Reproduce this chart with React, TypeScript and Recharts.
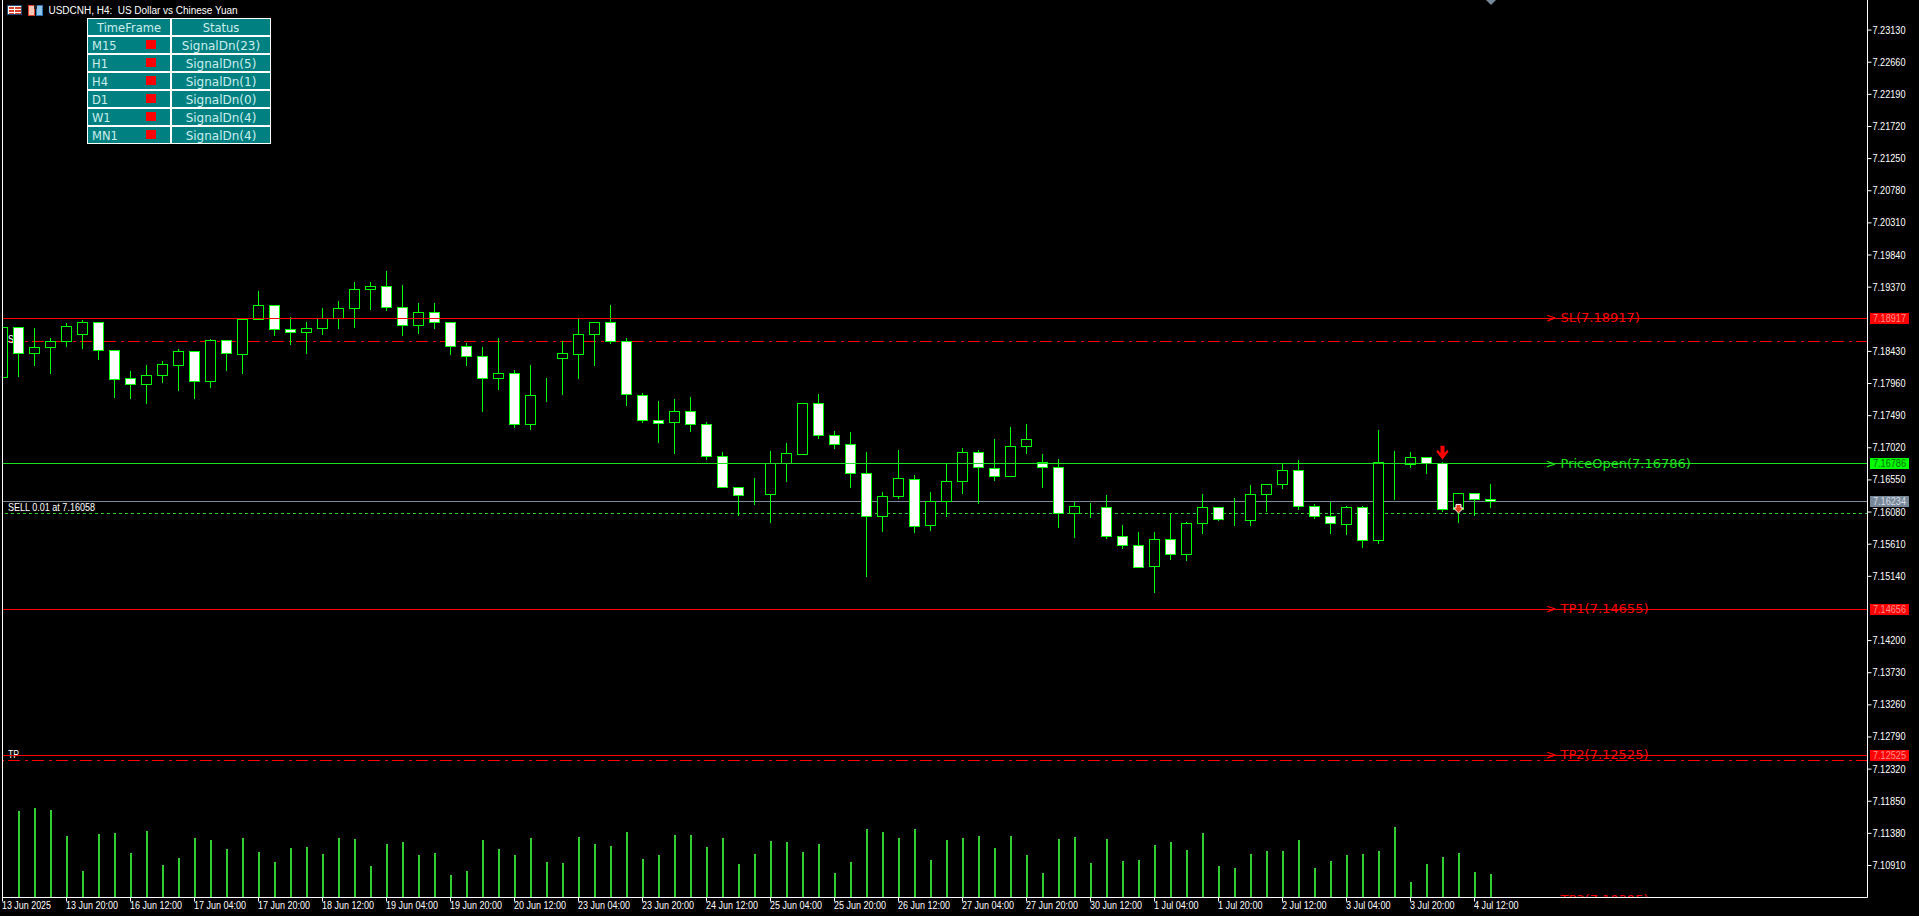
import React from 'react';
import { ComposedChart, Bar, XAxis, YAxis, ReferenceLine, ReferenceDot } from 'recharts';

const WIDTH = 1919;
const HEIGHT = 916;
const SANS = '"Liberation Sans", sans-serif';
const WIDE = '"DejaVu Sans", sans-serif';

const opens = [
  7.18049, 7.18785, 7.184, 7.18488, 7.18576, 7.18678, 7.18858, 7.18449, 7.18039, 7.17947,
  7.18078, 7.18225, 7.18434, 7.17991, 7.18595, 7.18385, 7.18897, 7.19107, 7.18756, 7.18707,
  7.18766, 7.18917, 7.19063, 7.19336, 7.19385, 7.19078, 7.1881, 7.19005, 7.18858, 7.18507,
  7.18362, 7.18035, 7.18113, 7.17362, 7.17791, 7.18328, 7.18386, 7.18684, 7.18859, 7.18581,
  7.17791, 7.17426, 7.17392, 7.17557, 7.17367, 7.16899, 7.16446, 7.16329, 7.16339, 7.16797,
  7.16924, 7.17674, 7.17206, 7.17075, 7.16651, 7.16017, 7.16309, 7.16563, 7.15885, 7.16241,
  7.16528, 7.16957, 7.16718, 7.16606, 7.1704, 7.16811, 7.16737, 7.16065, 7.16162, 7.16152,
  7.15728, 7.15597, 7.15285, 7.15684, 7.15465, 7.15918, 7.16152, 7.15972, 7.15957, 7.16338,
  7.16484, 7.16694, 7.16167, 7.16021, 7.15899, 7.16152, 7.15665, 7.16796, 7.16781, 7.16884,
  7.16796, 7.16123, 7.16357, 7.16269,
];
const highs = [
  7.18785, 7.18805, 7.18785, 7.18639, 7.18863, 7.18902, 7.18878, 7.18468, 7.18156, 7.18244,
  7.18303, 7.18478, 7.18434, 7.18624, 7.1861, 7.18902, 7.19326, 7.19107, 7.18951, 7.18878,
  7.19083, 7.1918, 7.19458, 7.19458, 7.19624, 7.19419, 7.19151, 7.19151, 7.18858, 7.18566,
  7.18513, 7.18645, 7.18177, 7.1825, 7.18055, 7.18596, 7.18932, 7.18859, 7.19127, 7.18645,
  7.1784, 7.17723, 7.17752, 7.17782, 7.17416, 7.16977, 7.16446, 7.16597, 7.16992, 7.17104,
  7.17694, 7.17826, 7.17284, 7.1727, 7.16977, 7.16392, 7.17006, 7.16641, 7.16392, 7.16797,
  7.17035, 7.17006, 7.17166, 7.17342, 7.17386, 7.16947, 7.16874, 7.16235, 7.1623, 7.16347,
  7.15909, 7.15806, 7.15806, 7.16084, 7.15953, 7.16362, 7.16172, 7.16299, 7.16494, 7.16508,
  7.16796, 7.16859, 7.16216, 7.16235, 7.16187, 7.16187, 7.17298, 7.16991, 7.16976, 7.16884,
  7.1682, 7.16377, 7.16357, 7.16508,
];
const lows = [
  7.18049, 7.18064, 7.18234, 7.18117, 7.18512, 7.18483, 7.18322, 7.17766, 7.17752, 7.17678,
  7.17986, 7.17869, 7.17752, 7.17913, 7.18161, 7.18117, 7.18897, 7.18673, 7.18541, 7.1841,
  7.18688, 7.18775, 7.1879, 7.19053, 7.19039, 7.18673, 7.18702, 7.18775, 7.18395, 7.18234,
  7.17562, 7.17884, 7.17328, 7.17299, 7.17709, 7.17811, 7.18045, 7.18235, 7.18547, 7.1765,
  7.17401, 7.17109, 7.16948, 7.1727, 7.1686, 7.16441, 7.16041, 7.16202, 7.15939, 7.16538,
  7.16924, 7.17167, 7.17021, 7.16451, 7.15149, 7.15807, 7.1629, 7.15793, 7.15822, 7.16027,
  7.16352, 7.16206, 7.16542, 7.16606, 7.16937, 7.1644, 7.15855, 7.15709, 7.16001, 7.15694,
  7.15548, 7.15275, 7.14904, 7.15387, 7.15372, 7.15767, 7.15957, 7.15894, 7.15884, 7.16089,
  7.16425, 7.16118, 7.15987, 7.15767, 7.15753, 7.15562, 7.15621, 7.16274, 7.16733, 7.16645,
  7.16099, 7.15928, 7.16031, 7.16148,
];
const closes = [
  7.18785, 7.184, 7.18493, 7.1858, 7.188, 7.18858, 7.18449, 7.1802, 7.17947, 7.18083,
  7.18244, 7.18434, 7.17991, 7.18595, 7.184, 7.18902, 7.19107, 7.18751, 7.18707, 7.18771,
  7.18917, 7.19063, 7.19341, 7.19385, 7.19073, 7.1881, 7.19005, 7.18853, 7.18502, 7.18356,
  7.18035, 7.18113, 7.17362, 7.17791, 7.17795, 7.18406, 7.18684, 7.18859, 7.18576, 7.17801,
  7.17421, 7.17377, 7.17557, 7.17362, 7.16894, 7.16441, 7.16324, 7.16333, 7.16797, 7.16943,
  7.17674, 7.17201, 7.1707, 7.16646, 7.16017, 7.16314, 7.16577, 7.15871, 7.16241, 7.16534,
  7.16957, 7.16737, 7.16606, 7.17045, 7.17147, 7.16737, 7.16065, 7.16167, 7.16166, 7.15723,
  7.15592, 7.15275, 7.15684, 7.15465, 7.15918, 7.16152, 7.15972, 7.15976, 7.16343, 7.16489,
  7.16694, 7.16162, 7.16016, 7.15914, 7.16152, 7.15665, 7.16811, 7.168, 7.16884, 7.16796,
  7.16123, 7.16357, 7.16269, 7.1624,
];
const volumes = [
  0, 261, 270, 264, 186, 81, 192, 195, 135, 201, 99, 120, 180, 174, 147, 180, 138, 108, 150, 153,
  132, 180, 177, 96, 162, 168, 129, 135, 69, 81, 174, 147, 129, 180, 108, 105, 183, 162, 156, 198,
  117, 129, 189, 189, 153, 180, 102, 132, 171, 168, 138, 162, 75, 108, 207, 198, 180, 207, 114, 174,
  180, 186, 150, 186, 129, 75, 177, 183, 105, 177, 111, 114, 159, 168, 144, 195, 96, 90, 132, 141,
  141, 174, 90, 111, 129, 132, 141, 213, 48, 102, 123, 135, 78, 72,
];

const xTickLabels = [
  '13 Jun 2025', '13 Jun 20:00', '16 Jun 12:00', '17 Jun 04:00', '17 Jun 20:00', '18 Jun 12:00',
  '19 Jun 04:00', '19 Jun 20:00', '20 Jun 12:00', '23 Jun 04:00', '23 Jun 20:00', '24 Jun 12:00',
  '25 Jun 04:00', '25 Jun 20:00', '26 Jun 12:00', '27 Jun 04:00', '27 Jun 20:00', '30 Jun 12:00',
  '1 Jul 04:00', '1 Jul 20:00', '2 Jul 12:00', '3 Jul 04:00', '3 Jul 20:00', '4 Jul 12:00',
];
const xTicks = xTickLabels.map((_, i) => i * 4);
const priceTicks = [
  7.2313, 7.2266, 7.2219, 7.2172, 7.2125, 7.2078, 7.2031, 7.1984, 7.1937, 7.1843, 7.1796, 7.1749,
  7.1702, 7.1655, 7.1608, 7.1561, 7.1514, 7.142, 7.1373, 7.1326, 7.1279, 7.1232, 7.1185, 7.1138, 7.1091,
];

const timeFrames = ['M15', 'H1', 'H4', 'D1', 'W1', 'MN1'];
const signals = ['SignalDn(23)', 'SignalDn(5)', 'SignalDn(1)', 'SignalDn(0)', 'SignalDn(4)', 'SignalDn(4)'];

const rows = opens.map((open, idx) => ({
  idx,
  open,
  high: highs[idx],
  low: lows[idx],
  close: closes[idx],
  range: [lows[idx], highs[idx]],
  volume: volumes[idx],
}));

const PRICE_DOMAIN = [7.10442, 7.2357];
const BAR_DOMAIN = [0, 116.5625];
const VOLUME_DOMAIN = [0, 2692.5];
const PLOT_LEFT = 2.5;
const PLOT_BOTTOM = 897;
const LIME = '#00ff00';
const OPEN_GREEN = '#1ee01e';
const SOFT_GREEN = '#32cd32';
const RED = '#ff0000';
const SLATE = '#778899';

const snap = (v: number) => Math.floor(v + 0.4) + 0.5;

// wick and body are worked out from the high/low range the Bar hands over
const Candle = (props: any) => {
  const { x, y, width, height, payload } = props;
  const { open, high, low, close } = payload;
  const perUnit = height / (high - low);
  const yOf = (p: number) => snap(y + (high - p) * perUnit);
  const cx = Math.floor(x + width / 2) + 0.5;
  const bodyTop = yOf(Math.max(open, close));
  const bodyBottom = yOf(Math.min(open, close));
  const left = Math.max(cx - 5, PLOT_LEFT);
  const right = cx + 5;
  return (
    <g shapeRendering="crispEdges">
      <line x1={cx} x2={cx} y1={yOf(high)} y2={yOf(low)} stroke={LIME} />
      <rect
        x={left}
        y={bodyTop}
        width={right - left}
        height={bodyBottom - bodyTop}
        fill={close > open ? '#000000' : '#ffffff'}
        stroke={LIME}
      />
    </g>
  );
};

const PriceTick = (props: any) => (
  <text
    x={props.x}
    y={props.y}
    dy={3.5}
    fill="#ffffff"
    fontSize={11}
    fontFamily={SANS}
    textAnchor="start"
    textLength={33}
    lengthAdjust="spacingAndGlyphs"
  >
    {Number(props.payload.value).toFixed(5)}
  </text>
);

const timeLabelWidth = (label: string) => (label.endsWith('2025') ? 49 : label.length === 12 ? 52 : 44.5);

const TimeTick = (props: any) => {
  const label = xTickLabels[xTicks.indexOf(props.payload.value)];
  return (
    <text
      x={props.x - 0.5}
      y={props.y}
      dy={7.5}
      fill="#ffffff"
      fontSize={11}
      fontFamily={SANS}
      textAnchor="start"
      textLength={timeLabelWidth(label)}
      lengthAdjust="spacingAndGlyphs"
    >
      {label}
    </text>
  );
};

// name in the middle of the line, value box on the price scale
const levelLabel = (name: string, boxValue: string, textColor: string, boxColor: string, boxText: string) => (props: any) => {
  const y = props.viewBox.y;
  return (
    <g>
      {name && (
        <text x={1545.5} y={y} dy={4} fill={textColor} fontSize={13} fontFamily={WIDE}>
          {name}
        </text>
      )}
      <rect x={1870} y={Math.floor(y) - 5} width={39} height={11} fill={boxColor} shapeRendering="crispEdges" />
      <text
        x={1873}
        y={y}
        dy={3.5}
        fill={boxText}
        fontSize={11}
        fontFamily={SANS}
        textLength={33}
        lengthAdjust="spacingAndGlyphs"
      >
        {boxValue}
      </text>
    </g>
  );
};

const tp3Label = (props: any) => (
  <g>
    <clipPath id="tp3-clip">
      <rect x={1500} y={880} width={200} height={PLOT_BOTTOM - 880} />
    </clipPath>
    <text x={1545.5} y={props.viewBox.y} dy={3} fill={RED} fontSize={13} fontFamily={WIDE} clipPath="url(#tp3-clip)">
      {'> TP3(7.10395)'}
    </text>
  </g>
);

const orderLabel = (text: string, dy: number, width: number, clipRight?: number) => (props: any) => (
  <g>
    {clipRight && (
      <clipPath id="order-clip">
        <rect x={0} y={props.viewBox.y - 20} width={clipRight} height={40} />
      </clipPath>
    )}
    <text
      x={8}
      y={props.viewBox.y}
      dy={dy}
      fill="#ffffff"
      fontSize={11}
      fontFamily={SANS}
      textLength={width}
      lengthAdjust="spacingAndGlyphs"
      clipPath={clipRight ? 'url(#order-clip)' : undefined}
    >
      {text}
    </text>
  </g>
);

const SellArrow = (props: any) => (
  <polygon
    transform={`translate(${props.cx},${props.cy})`}
    points="-2,-7 2,-7 2,0 5,-3 6,-1 0,7 -6,-1 -5,-3 -2,0"
    fill={RED}
  />
);

const DealArrow = (props: any) => (
  <polygon
    transform={`translate(${props.cx},${props.cy})`}
    points="-2.5,-4 2.5,-4 2.5,-0.5 5,-0.5 0,4.5 -5,-0.5 -2.5,-0.5"
    fill="#e8401a"
    stroke="#ffffff"
  />
);

const SignalTable = () => {
  const cell: React.CSSProperties = {
    position: 'absolute',
    background: '#008080',
    color: '#cdeeee',
    fontFamily: WIDE,
    fontSize: 11,
    lineHeight: '18px',
    whiteSpace: 'nowrap',
  };
  return (
    <div style={{ position: 'absolute', left: 87, top: 18, width: 184, height: 126, background: '#ffffff' }}>
      <div style={{ ...cell, left: 1, top: 1, width: 82, height: 16, textAlign: 'center', fontSize: 11.5 }}>TimeFrame</div>
      <div style={{ ...cell, left: 85, top: 1, width: 98, height: 16, textAlign: 'center', fontSize: 11.5 }}>Status</div>
      {timeFrames.map((tf, i) => (
        <React.Fragment key={tf}>
          <div
            style={{
              ...cell,
              left: 1,
              top: 19 + i * 18,
              width: 82,
              height: 16,
              paddingLeft: 4,
              boxSizing: 'border-box',
              fontSize: 11.5,
            }}
          >
            {tf}
          </div>
          <div style={{ position: 'absolute', left: 59, top: 22 + i * 18, width: 10, height: 9, background: RED }} />
          <div style={{ ...cell, left: 85, top: 19 + i * 18, width: 98, height: 16, textAlign: 'center', fontSize: 12 }}>
            {signals[i]}
          </div>
        </React.Fragment>
      ))}
    </div>
  );
};

const TitleBar = () => (
  <>
    <svg width={50} height={20} style={{ position: 'absolute', left: 0, top: 0 }} shapeRendering="crispEdges">
      <rect x={7.5} y={5.5} width={14} height={9} fill="#ffffff" stroke="#1f4e79" />
      <rect x={9} y={7} width={5} height={2} fill="#d9402a" />
      <rect x={9} y={10} width={5} height={2} fill="#d9402a" />
      <rect x={9} y={13} width={5} height={1} fill="#d9402a" />
      <rect x={15} y={7} width={6} height={2} fill="#d9402a" />
      <rect x={15} y={10} width={6} height={2} fill="#d9402a" />
      <rect x={15} y={13} width={6} height={1} fill="#d9402a" />
      <rect x={28.5} y={5.5} width={6} height={10} fill="#f5c5b5" stroke="#d9402a" />
      <rect x={36.5} y={5.5} width={6} height={10} fill="#8fc4ea" stroke="#2f74b5" />
      <rect x={34} y={5} width={3} height={4} fill="#222222" />
    </svg>
    <div
      style={{
        position: 'absolute',
        left: 48.5,
        top: 4,
        color: '#ffffff',
        fontFamily: SANS,
        fontSize: 10,
        letterSpacing: -0.02,
        lineHeight: '13px',
        whiteSpace: 'pre',
      }}
    >
      {'USDCNH, H4:  US Dollar vs Chinese Yuan'}
    </div>
    <svg width={12} height={6} style={{ position: 'absolute', left: 1485, top: 0 }}>
      <polygon points="1,0 11,0 6,5" fill={SLATE} />
    </svg>
  </>
);

export default function App() {
  return (
    <div style={{ position: 'absolute', left: 0, top: 0, width: WIDTH, height: HEIGHT, background: '#000000', overflow: 'hidden' }}>
      <ComposedChart
        width={WIDTH}
        height={HEIGHT}
        data={rows}
        margin={{ top: 0, right: 0, bottom: 0, left: PLOT_LEFT }}
      >
        <XAxis
          dataKey="idx"
          type="number"
          domain={BAR_DOMAIN}
          ticks={xTicks}
          interval={0}
          height={18.5}
          tickSize={4}
          tickMargin={0}
          axisLine={{ stroke: '#ffffff' }}
          tickLine={{ stroke: '#ffffff' }}
          tick={<TimeTick />}
          allowDataOverflow
        />
        <XAxis xAxisId="vol" dataKey="idx" type="number" domain={BAR_DOMAIN} hide allowDataOverflow />
        <YAxis
          orientation="right"
          domain={PRICE_DOMAIN}
          ticks={priceTicks}
          interval={0}
          width={51.5}
          tickSize={4}
          tickMargin={1}
          axisLine={{ stroke: '#ffffff' }}
          tickLine={{ stroke: '#ffffff' }}
          tick={<PriceTick />}
          allowDataOverflow
        />
        <YAxis yAxisId="vol" domain={VOLUME_DOMAIN} hide allowDataOverflow />

        <ReferenceLine y={7.18581} stroke={RED} strokeDasharray="12 4 3 5" shapeRendering="crispEdges" label={orderLabel('SL', 1.5, 11, 13)} zIndex={100} />
        <ReferenceLine y={7.12452} stroke={RED} strokeDasharray="12 4 3 5" shapeRendering="crispEdges" label={orderLabel('TP', -2, 11)} zIndex={100} />
        <ReferenceLine y={7.16058} stroke={SOFT_GREEN} strokeDasharray="3 3" shapeRendering="crispEdges" label={orderLabel('SELL 0.01 at 7.16058', -3, 87)} zIndex={100} />
        <ReferenceLine y={7.16234} stroke={SLATE} shapeRendering="crispEdges" label={levelLabel('', '7.16234', SLATE, SLATE, '#d8dde2')} zIndex={100} />

        <Bar xAxisId="vol" yAxisId="vol" dataKey="volume" barSize={2} fill={SOFT_GREEN} isAnimationActive={false} shapeRendering="crispEdges" />
        <Bar dataKey="range" barSize={11} shape={<Candle />} isAnimationActive={false} />

        <ReferenceLine y={7.18917} stroke={RED} shapeRendering="crispEdges" label={levelLabel('> SL(7.18917)', '7.18917', RED, RED, '#ff9090')} isFront zIndex={450} />
        <ReferenceLine y={7.16786} stroke={OPEN_GREEN} shapeRendering="crispEdges" label={levelLabel('> PriceOpen(7.16786)', '7.16786', OPEN_GREEN, LIME, '#0a6a0a')} isFront zIndex={450} />
        <ReferenceLine y={7.14656} stroke={RED} shapeRendering="crispEdges" label={levelLabel('> TP1(7.14655)', '7.14656', RED, RED, '#ff9090')} isFront zIndex={450} />
        <ReferenceLine y={7.12525} stroke={RED} shapeRendering="crispEdges" label={levelLabel('> TP2(7.12525)', '7.12525', RED, RED, '#ff9090')} isFront zIndex={450} />
        <ReferenceLine y={7.10395} stroke="none" ifOverflow="visible" label={tp3Label} isFront />
        <ReferenceLine x={0} stroke="#ffffff" shapeRendering="crispEdges" isFront zIndex={450} />

        <ReferenceDot x={90} y={7.16947} shape={<SellArrow />} isFront zIndex={460} />
        <ReferenceDot x={91} y={7.16133} shape={<DealArrow />} isFront zIndex={460} />
      </ComposedChart>
      <TitleBar />
      <SignalTable />
    </div>
  );
}
